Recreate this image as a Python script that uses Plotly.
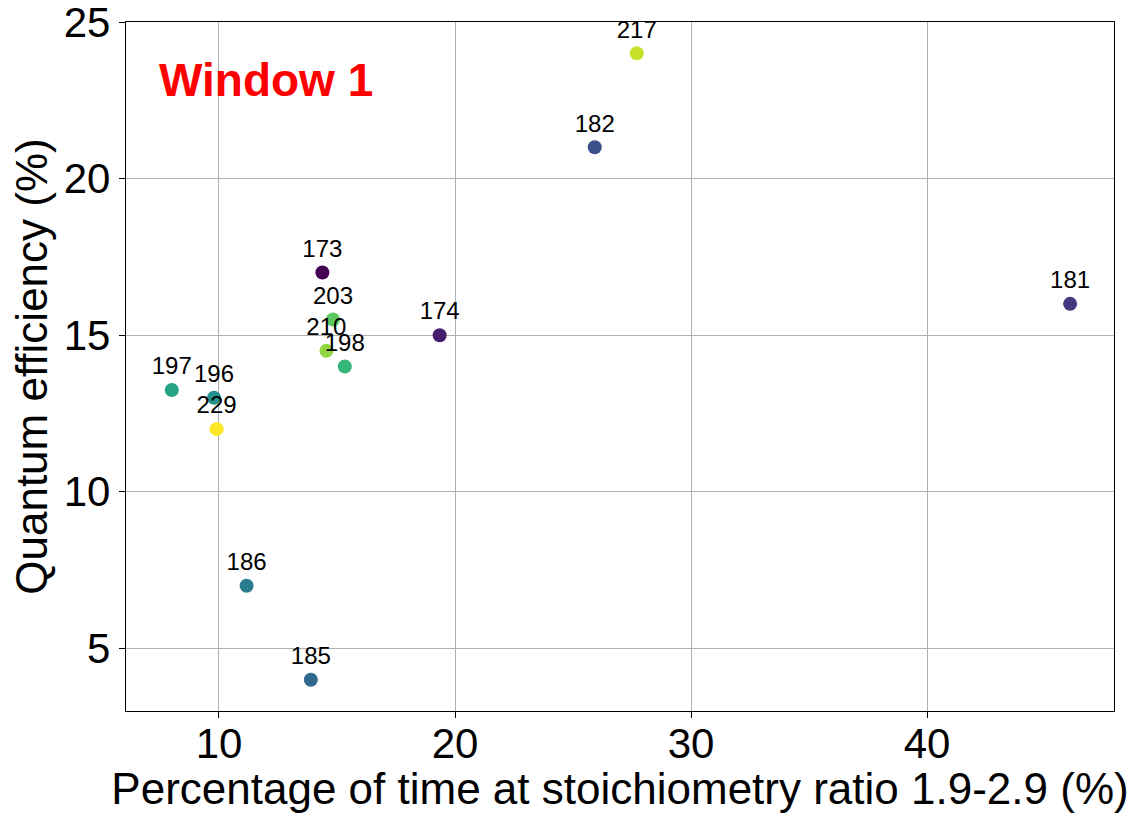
import plotly.graph_objects as go

# Run identifiers and their measurements
run_ids = [173, 174, 181, 182, 185, 186, 196, 197, 198, 203, 210, 217, 229]
pct_time_in_ratio = [14.38, 19.35, 46.06, 25.92, 13.89, 11.17, 9.79, 8.0, 15.33, 14.83, 14.55, 27.7, 9.9]
quantum_eff = [17.0, 15.0, 16.0, 21.0, 4.0, 7.0, 13.0, 13.25, 14.0, 15.5, 14.5, 24.0, 12.0]

x_ticks = [10, 20, 30, 40]
y_ticks = [5, 10, 15, 20, 25]

FONT = "Liberation Sans, Arial, sans-serif"

# Colour each run by its rank among the run identifiers (viridis)
order = sorted(run_ids)
run_rank = [order.index(r) for r in run_ids]

fig = go.Figure()
fig.add_trace(go.Scatter(
    x=pct_time_in_ratio,
    y=quantum_eff,
    mode="markers+text",
    text=[str(r) for r in run_ids],
    textposition="top center",
    textfont=dict(family=FONT, size=24, color="black"),
    marker=dict(
        size=14,
        color=run_rank,
        colorscale="Viridis",
        cmin=0,
        cmax=len(run_ids) - 1,
        line=dict(width=0),
    ),
    showlegend=False,
    cliponaxis=False,
))

axis_common = dict(
    showgrid=True,
    gridcolor="#b0b0b0",
    gridwidth=1,
    zeroline=False,
    showline=True,
    linecolor="black",
    linewidth=1.3,
    mirror=True,
    ticks="outside",
    ticklen=6,
    tickwidth=1.3,
    tickcolor="black",
    automargin=False,
    ticklabeloverflow="allow",
    tickfont=dict(family=FONT, size=42, color="black"),
)

fig.update_xaxes(
    range=[6.06, 47.92],
    tickvals=x_ticks,
    ticklabelstandoff=-11,
    title=dict(text="Percentage of time at stoichiometry ratio 1.9-2.9 (%)",
               font=dict(family=FONT, size=44, color="black"), standoff=2),
    **axis_common,
)
fig.update_yaxes(
    range=[3, 25.0001],
    tickvals=y_ticks,
    title=dict(text="Quantum efficiency (%)",
               font=dict(family=FONT, size=44, color="black"), standoff=2),
    **axis_common,
)

fig.add_annotation(
    text="<b>Window 1</b>",
    xref="paper", yref="paper",
    x=0.031, y=0.916,
    xanchor="left", yanchor="middle",
    showarrow=False,
    font=dict(family=FONT, size=46, color="red"),
)

fig.update_layout(
    width=1137,
    height=813,
    margin=dict(l=126, r=23, t=22, b=102),
    plot_bgcolor="white",
    paper_bgcolor="white",
)

fig.write_html("out.html")
